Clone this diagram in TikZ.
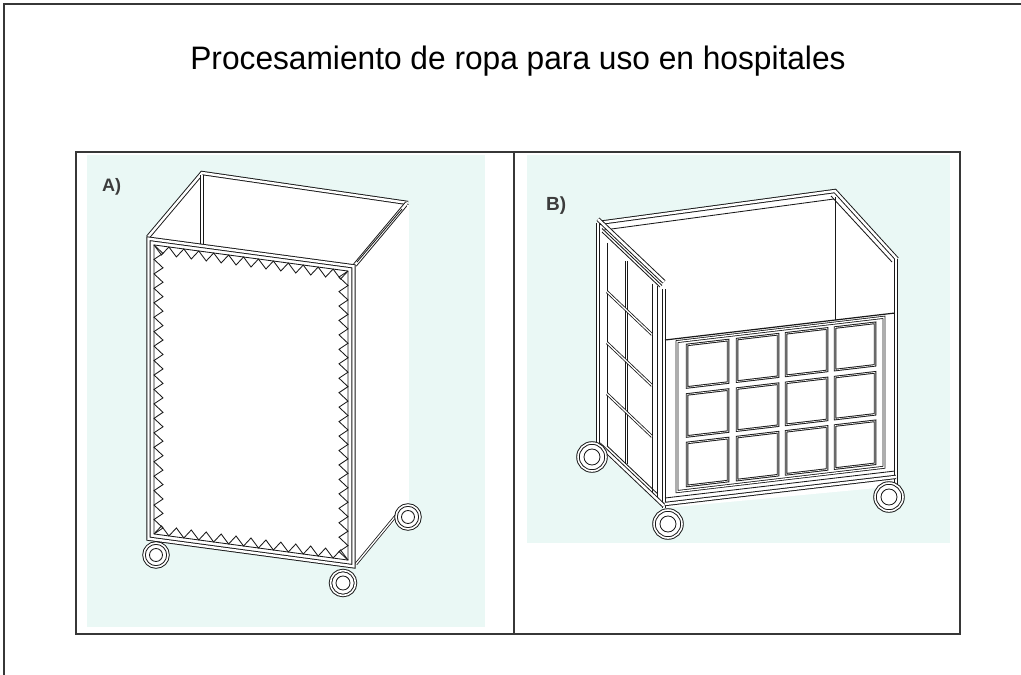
\documentclass[tikz,border=0pt]{standalone}
\usepackage{fontspec}
\setmainfont{Liberation Sans}
\definecolor{ink}{RGB}{25,25,25}
\definecolor{mint}{RGB}{234,248,245}
\definecolor{rule}{RGB}{55,55,55}
\definecolor{labgray}{RGB}{60,60,60}
\begin{document}
\begin{tikzpicture}[x=1pt,y=-1pt,
  tube/.style={draw=ink, line width=0.95pt, double=white, double distance=2.4pt},
  thintube/.style={draw=ink, line width=0.8pt, double=white, double distance=1.3pt},
  edge/.style={draw=ink, line width=0.85pt},
  pane/.style={draw=ink, line width=0.95pt, double=white, double distance=0.6pt, fill=white},
  wheelring/.style={draw=ink, line width=0.95pt, double=white, double distance=1.6pt, fill=white},
  hub/.style={draw=ink, line width=0.85pt},
  rulestyle/.style={draw=rule, line width=1.2pt}]
\useasboundingbox (0,0) rectangle (1021,675);
\fill[white] (0,0) rectangle (1021,675);

% page frame
\draw[draw=rule, line width=2pt] (3.5,675) -- (3.5,3.5) -- (1021,3.5);

% title
\node[font=\fontsize{32.5}{32.5}\selectfont, anchor=base, inner sep=0pt, xscale=0.975] (title) at (518,69)
  {Procesamiento de ropa para uso en hospitales};

% panel backgrounds
\fill[mint] (87,155) rectangle (485,627);
\fill[mint] (527,155) rectangle (950,543);

% table
\draw[rulestyle] (76,152) rectangle (960,634);
\draw[rulestyle] (514,152) -- (514,634);

% labels
\node[font=\fontsize{18}{18}\selectfont\bfseries, text=labgray, anchor=base west, inner sep=0pt] (labA) at (102,191) {A)};
\node[font=\fontsize{19}{19}\selectfont\bfseries, text=labgray, anchor=base west, inner sep=0pt] (labB) at (546,210) {B)};

% ================= cart A =================
\fill[white] (147,237) -- (202,172) -- (408,202) -- (409,505) -- (355,566) -- (147,540) -- cycle;
% open top rails
\draw[tube] (148,237) -- (202,173) -- (408,203);
\draw[tube] (407,203) -- (355,265);
\draw[edge] (402,209) -- (357,262);
% rear posts
\draw[tube] (202,175) -- (202,244);
\draw[thintube] (408,205) -- (408,505);
% lower side rail
\draw[thintube] (356,564) -- (399,512);

% front face with hem of triangles
\begin{scope}[cm={1,-0.1346,0,1,(147,237)}]
  \fill[white] (0,0) -- (208,0) -- (208,303) -- (0,303) -- cycle;
  \draw[tube] (1.5,1.5) -- (206.5,1.5) -- (206.5,301.5) -- (1.5,301.5) -- cycle;
  \draw[edge] (7,7) -- (201,7) -- (201,296) -- (7,296) -- cycle;
  \draw[edge] (7,7) \foreach \i in {1,...,13} { -- ({7+(\i-0.5)*194/13},16) -- ({7+\i*194/13},7) };
  \draw[edge] (7,296) \foreach \i in {1,...,13} { -- ({7+(\i-0.5)*194/13},287) -- ({7+\i*194/13},296) };
  \draw[edge] (7,7) \foreach \i in {1,...,20} { -- (16,{7+(\i-0.5)*289/20}) -- (7,{7+\i*289/20}) };
  \draw[edge] (201,7) \foreach \i in {1,...,20} { -- (192,{7+(\i-0.5)*289/20}) -- (201,{7+\i*289/20}) };
\end{scope}

% wheels
\foreach \wx/\wy/\wr in {156/555/12, 343/583/12.5, 408/517/12} {
  \draw[wheelring] (\wx,\wy) circle[radius=\wr];
  \draw[hub] (\wx,\wy) circle[radius=\wr-5.5];
}

% ================= cart B =================
\fill[white] (597,222) -- (835,190) -- (898,258) -- (898,486) -- (665,508) -- (597,447) -- cycle;
% open top rails
\draw[tube] (598,223) -- (835,191) -- (897,259);
\draw[edge] (604,230) -- (834,199);
\draw[edge] (831,196) -- (892,262);
% inner back corner
\draw[edge] (835,197) -- (835,320);
% posts
\draw[tube] (598,223) -- (598,447);
\draw[tube] (664,289) -- (664,508);
\draw[tube] (896,259) -- (896,486);

% side face with two columns of panes
\begin{scope}[cm={1,-0.95,0,1,(602,228)}]
  \draw[tube] (-4,-5) -- (62,-5);
  \draw[edge] (0,0.5) -- (60,0.5);
  \draw[edge] (0,4) -- (58,4);
  \draw[edge] (5,10) -- (5,213);
  \draw[thintube] (24.5,10) -- (24.5,213);
  \draw[edge] (50,8) -- (50,216);
  \draw[edge] (55,6) -- (55,218);
  \foreach \t in {59,110,161} {
    \draw[thintube] (5,\t) -- (50,\t);
  }
  \draw[edge] (5,213) -- (55,213);
  \draw[tube] (-3,219) -- (62,219);
\end{scope}

% front face with four by three panes
\begin{scope}[cm={1,0.1174,0,1,(665,340)}]
  \draw[edge, line width=1.2pt] (0,0) -- (229,0);
  \draw[thintube] (12,3) -- (219,3) -- (219,153) -- (12,153) -- cycle;
  \draw[edge] (0,158) -- (229,158);
  \draw[tube] (0,164) -- (231,164);
  \foreach \xa/\xb in {22/63, 72/113, 121/162, 170/210} {
    \foreach \ta/\tb in {7.5/50, 57/99, 105.5/148.5} {
      \draw[pane] (\xa,\ta) -- (\xb,\ta) -- (\xb,\tb) -- (\xa,\tb) -- cycle;
    }
  }
\end{scope}

% wheels
\foreach \wx/\wy in {592/457, 668/524, 889/497} {
  \draw[wheelring] (\wx,\wy) circle[radius=14];
  \draw[hub] (\wx,\wy) circle[radius=8];
}
\end{tikzpicture}
\end{document}
